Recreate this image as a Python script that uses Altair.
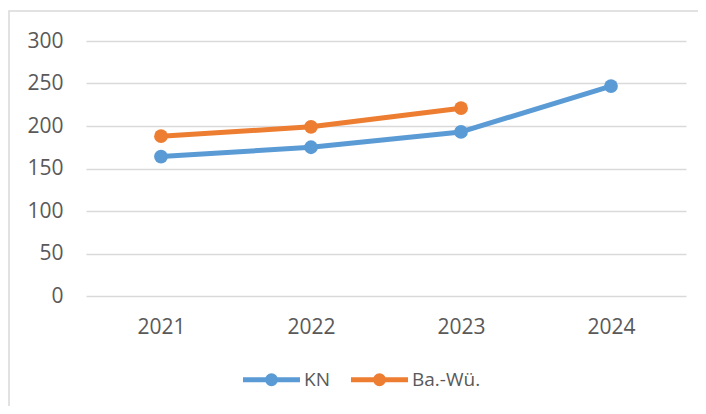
import altair as alt
import pandas as pd

years = ["2021", "2022", "2023", "2024"]
kn_values = [164, 175, 193, 247]
bw_years = ["2021", "2022", "2023"]
bw_values = [188, 199, 221]
series_names = ["KN", "Ba.-Wü."]
series_colors = ["#5B9BD5", "#ED7D31"]
y_ticks = [0, 50, 100, 150, 200, 250, 300]

rows = []
for y, v in zip(years, kn_values):
    rows.append({"Jahr": y, "Wert": v, "Serie": series_names[0]})
for y, v in zip(bw_years, bw_values):
    rows.append({"Jahr": y, "Wert": v, "Serie": series_names[1]})
df = pd.DataFrame(rows)

FONT = "Open Sans"
LABEL = "#595959"
GRID = "#D9D9D9"

# legend symbol: horizontal line with a dot in the middle
legend_symbol = ("M-4.07,0H4.07"
                 "M0.57,0A0.57,0.57,0,1,1,-0.57,0A0.57,0.57,0,1,1,0.57,0Z")

color = alt.Color(
    "Serie:N",
    scale=alt.Scale(domain=series_names, range=series_colors),
    sort=series_names,
    legend=alt.Legend(
        title=None,
        orient="none",
        direction="horizontal",
        legendX=176,
        legendY=329,
        symbolType=legend_symbol,
        symbolSize=196,
        symbolStrokeWidth=5,
        symbolOpacity=1,
        labelFont=FONT,
        labelFontSize=19,
        labelColor=LABEL,
        labelOffset=23,
        columnPadding=11,
    ),
)

base = alt.Chart(df).encode(
    x=alt.X(
        "Jahr:O",
        title=None,
        scale=alt.Scale(type="point", padding=0.5),
        axis=alt.Axis(
            labelAngle=0,
            domain=False,
            ticks=False,
            grid=False,
            labelFont=FONT,
            labelFontSize=21,
            labelColor=LABEL,
            labelPadding=20,
        ),
    ),
    y=alt.Y(
        "Wert:Q",
        title=None,
        scale=alt.Scale(domain=[0, 300], nice=False),
        axis=alt.Axis(
            values=y_ticks,
            domain=False,
            ticks=False,
            gridColor=GRID,
            gridWidth=1.5,
            labelFont=FONT,
            labelFontSize=21,
            labelColor=LABEL,
            labelPadding=23,
        ),
    ),
    color=color,
)

lines = base.mark_line(strokeWidth=5, strokeCap="round", strokeJoin="round")
points = base.mark_point(filled=True, size=190, opacity=1)

frame = alt.Chart(pd.DataFrame({"f": [0]})).mark_rect(
    fill="white", fillOpacity=0, stroke=GRID, strokeWidth=1.5
).encode(
    x=alt.value(-77), x2=alt.value(650), y=alt.value(-30), y2=alt.value(430)
)

chart = alt.layer(frame, lines, points).properties(
    width=600,
    height=255,
    padding={"left": 78, "top": 33, "right": 12, "bottom": 110},
    autosize=alt.AutoSizeParams(type="none"),
).configure_view(stroke="transparent")

chart.save("out.html", embed_options={"renderer": "svg", "actions": False})
